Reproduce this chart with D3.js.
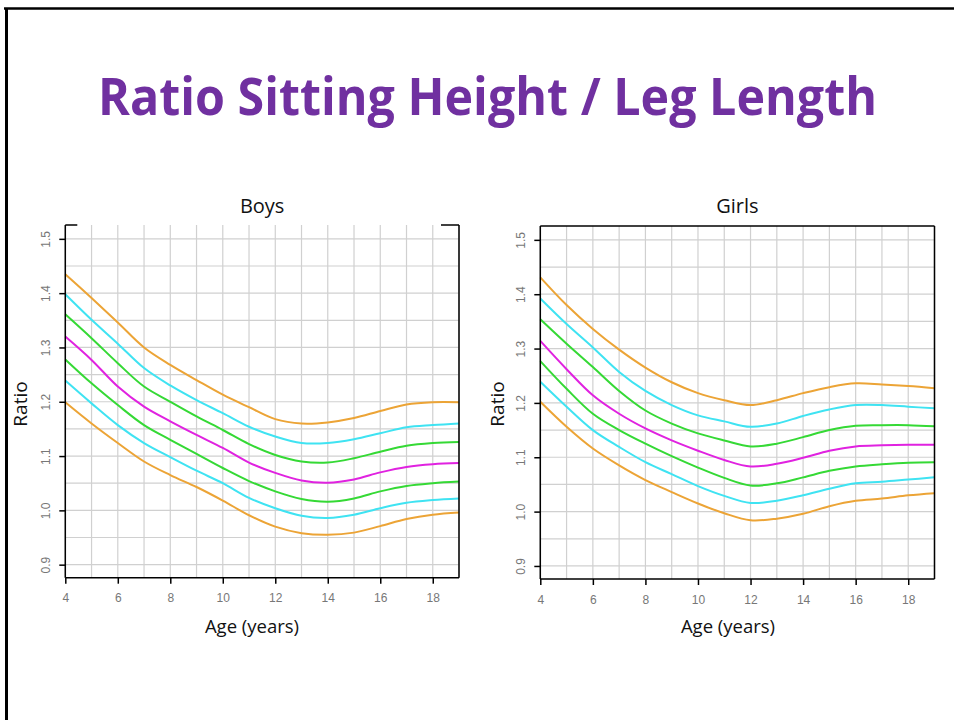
<!DOCTYPE html>
<html>
<head>
<meta charset="utf-8">
<script src="https://cdn.jsdelivr.net/npm/d3@7"></script>
<style>
  html, body { margin: 0; padding: 0; background: #fff; }
  svg { display: block; }
</style>
</head>
<body>
<svg id="slide" width="954" height="720"></svg>
<script>
'use strict';

// ages 4..19
var ages = [4, 5, 6, 7, 8, 9, 10, 11, 12, 13, 14, 15, 16, 17, 18, 19];

var boysOrangeHi = [1.435, 1.391, 1.346, 1.300, 1.268, 1.240, 1.213, 1.190, 1.168, 1.160, 1.162, 1.170, 1.183, 1.195, 1.199, 1.199];
var boysCyanHi   = [1.398, 1.351, 1.307, 1.262, 1.230, 1.203, 1.179, 1.154, 1.136, 1.124, 1.124, 1.131, 1.142, 1.153, 1.157, 1.160];
var boysGreenHi  = [1.361, 1.317, 1.271, 1.228, 1.200, 1.173, 1.148, 1.122, 1.102, 1.090, 1.088, 1.096, 1.108, 1.119, 1.124, 1.126];
var boysMedian   = [1.320, 1.277, 1.228, 1.191, 1.164, 1.139, 1.115, 1.088, 1.069, 1.055, 1.051, 1.057, 1.070, 1.080, 1.085, 1.087];
var boysGreenLo  = [1.278, 1.234, 1.194, 1.157, 1.130, 1.104, 1.078, 1.054, 1.035, 1.021, 1.016, 1.022, 1.035, 1.045, 1.050, 1.053];
var boysCyanLo   = [1.239, 1.197, 1.157, 1.124, 1.098, 1.073, 1.050, 1.023, 1.004, 0.990, 0.986, 0.992, 1.004, 1.014, 1.019, 1.022];
var boysOrangeLo = [1.199, 1.160, 1.124, 1.090, 1.065, 1.043, 1.018, 0.991, 0.970, 0.958, 0.955, 0.959, 0.971, 0.984, 0.992, 0.996];

var girlsOrangeHi = [1.431, 1.380, 1.336, 1.298, 1.265, 1.238, 1.218, 1.205, 1.196, 1.205, 1.218, 1.229, 1.236, 1.234, 1.231, 1.227];
var girlsCyanHi   = [1.392, 1.345, 1.302, 1.257, 1.222, 1.196, 1.177, 1.166, 1.156, 1.162, 1.176, 1.188, 1.196, 1.196, 1.193, 1.190];
var girlsGreenHi  = [1.354, 1.309, 1.266, 1.222, 1.186, 1.162, 1.144, 1.131, 1.120, 1.125, 1.137, 1.150, 1.158, 1.159, 1.159, 1.157];
var girlsMedian   = [1.314, 1.262, 1.214, 1.180, 1.153, 1.131, 1.112, 1.095, 1.083, 1.088, 1.099, 1.112, 1.120, 1.122, 1.123, 1.123];
var girlsGreenLo  = [1.277, 1.226, 1.180, 1.150, 1.125, 1.102, 1.081, 1.062, 1.048, 1.052, 1.063, 1.075, 1.083, 1.087, 1.090, 1.091];
var girlsCyanLo   = [1.239, 1.193, 1.150, 1.119, 1.091, 1.069, 1.047, 1.029, 1.016, 1.020, 1.030, 1.042, 1.052, 1.055, 1.059, 1.063];
var girlsOrangeLo = [1.202, 1.156, 1.116, 1.085, 1.058, 1.036, 1.015, 0.997, 0.984, 0.987, 0.996, 1.010, 1.020, 1.024, 1.030, 1.034];

var curveColors = ['#eca436', '#3fe3f2', '#35d935', '#e022e0', '#35d935', '#3fe3f2', '#eca436'];

var xTicks = [4, 6, 8, 10, 12, 14, 16, 18];
var yTicks = [0.9, 1.0, 1.1, 1.2, 1.3, 1.4, 1.5];
var yGrid = [0.9, 0.95, 1.0, 1.05, 1.1, 1.15, 1.2, 1.25, 1.3, 1.35, 1.4, 1.45, 1.5];

var svg = d3.select('#slide');

// slide frame
svg.append('line').attr('x1', 4).attr('x2', 954).attr('y1', 8.5).attr('y2', 8.5)
    .attr('stroke', '#000').attr('stroke-width', 2.5);
svg.append('line').attr('x1', 6.5).attr('x2', 6.5).attr('y1', 8).attr('y2', 720)
    .attr('stroke', '#000').attr('stroke-width', 3);

svg.append('text')
    .attr('x', 98).attr('y', 115)
    .attr('textLength', 779).attr('lengthAdjust', 'spacingAndGlyphs')
    .attr('font-family', '"Open Sans", "Noto Sans", sans-serif')
    .attr('font-weight', 700).attr('font-size', 52)
    .attr('fill', '#7030a0')
    .text('Ratio Sitting Height / Leg Length');

function drawPanel(cfg) {
    var x = d3.scaleLinear().domain([4, 19]).range([cfg.left, cfg.right]);
    var y = d3.scaleLinear().domain([0.876, 1.5255]).range([cfg.bottom, cfg.top]);
    var g = svg.append('g');

    // grid
    g.selectAll('line.vg').data(ages).enter().append('line')
        .attr('x1', function (d) { return x(d); }).attr('x2', function (d) { return x(d); })
        .attr('y1', cfg.top).attr('y2', cfg.bottom)
        .attr('stroke', '#d0d0d0').attr('stroke-width', 1.2);
    g.selectAll('line.hg').data(yGrid).enter().append('line')
        .attr('x1', cfg.left).attr('x2', cfg.right)
        .attr('y1', function (d) { return y(d); }).attr('y2', function (d) { return y(d); })
        .attr('stroke', '#d0d0d0').attr('stroke-width', 1.2);

    // curves
    var line = d3.line()
        .x(function (d, i) { return x(ages[i]); })
        .y(function (d) { return y(d); })
        .curve(d3.curveCatmullRom.alpha(0.5));
    g.selectAll('path.curve').data(cfg.series).enter().append('path')
        .attr('d', function (d) { return line(d); })
        .attr('stroke', function (d, i) { return curveColors[i]; })
        .attr('stroke-width', 2)
        .attr('fill', 'none');

    // frame
    var frame = g.append('g').attr('stroke', '#000').attr('stroke-width', 1.5);
    frame.append('line').attr('x1', cfg.left).attr('x2', cfg.left).attr('y1', cfg.top).attr('y2', cfg.bottom);
    frame.append('line').attr('x1', cfg.left).attr('x2', cfg.right).attr('y1', cfg.bottom).attr('y2', cfg.bottom);
    frame.append('line').attr('x1', cfg.right).attr('x2', cfg.right).attr('y1', cfg.top).attr('y2', cfg.bottom);
    if (cfg.fullTop) {
        frame.append('line').attr('x1', cfg.left).attr('x2', cfg.right).attr('y1', cfg.top).attr('y2', cfg.top);
    } else {
        frame.append('line').attr('x1', cfg.left).attr('x2', cfg.left + 12).attr('y1', cfg.top).attr('y2', cfg.top);
        frame.append('line').attr('x1', cfg.right - 18).attr('x2', cfg.right).attr('y1', cfg.top).attr('y2', cfg.top);
    }

    // x axis
    var xAxis = g.append('g')
        .attr('transform', 'translate(0,' + cfg.bottom + ')')
        .call(d3.axisBottom(x).tickValues(xTicks).tickSize(6).tickPadding(10).tickFormat(d3.format('d')));
    xAxis.select('.domain').remove();
    xAxis.selectAll('.tick line').attr('stroke', '#000').attr('stroke-width', 1.5);
    xAxis.selectAll('.tick text')
        .attr('fill', '#777').attr('font-size', 12)
        .attr('font-family', '"Liberation Sans", Arial, sans-serif');

    // y axis
    var yAxis = g.append('g')
        .attr('transform', 'translate(' + cfg.left + ',0)')
        .call(d3.axisLeft(y).tickValues(yTicks).tickSize(6).tickFormat(d3.format('.1f')));
    yAxis.select('.domain').remove();
    yAxis.selectAll('.tick line').attr('stroke', '#000').attr('stroke-width', 1.5);
    yAxis.selectAll('.tick text')
        .attr('fill', '#777').attr('font-size', 12)
        .attr('font-family', '"Liberation Sans", Arial, sans-serif')
        .attr('x', null).attr('dy', null)
        .attr('text-anchor', 'middle')
        .attr('transform', 'translate(-15,0) rotate(-90)');

    // labels
    var mid = (cfg.left + cfg.right) / 2;
    g.append('text')
        .attr('x', mid).attr('y', 212.5)
        .attr('text-anchor', 'middle')
        .attr('font-family', '"Open Sans", sans-serif').attr('font-size', 20)
        .attr('fill', '#111')
        .text(cfg.title);
    g.append('text')
        .attr('x', cfg.ageX).attr('y', 633)
        .attr('text-anchor', 'middle')
        .attr('font-family', '"Open Sans", sans-serif').attr('font-size', 18.5)
        .attr('fill', '#111')
        .text('Age (years)');
    g.append('text')
        .attr('transform', 'translate(' + cfg.ratioX + ',404) rotate(-90)')
        .attr('text-anchor', 'middle')
        .attr('font-family', '"Open Sans", sans-serif').attr('font-size', 19)
        .attr('fill', '#111')
        .text('Ratio');
}

drawPanel({
    title: 'Boys', left: 65.3, right: 459, top: 225, bottom: 577.7,
    fullTop: false, ageX: 252, ratioX: 27,
    series: [boysOrangeHi, boysCyanHi, boysGreenHi, boysMedian, boysGreenLo, boysCyanLo, boysOrangeLo]
});

drawPanel({
    title: 'Girls', left: 540.3, right: 934.5, top: 226, bottom: 579,
    fullTop: true, ageX: 728, ratioX: 504,
    series: [girlsOrangeHi, girlsCyanHi, girlsGreenHi, girlsMedian, girlsGreenLo, girlsCyanLo, girlsOrangeLo]
});
</script>
</body>
</html>
